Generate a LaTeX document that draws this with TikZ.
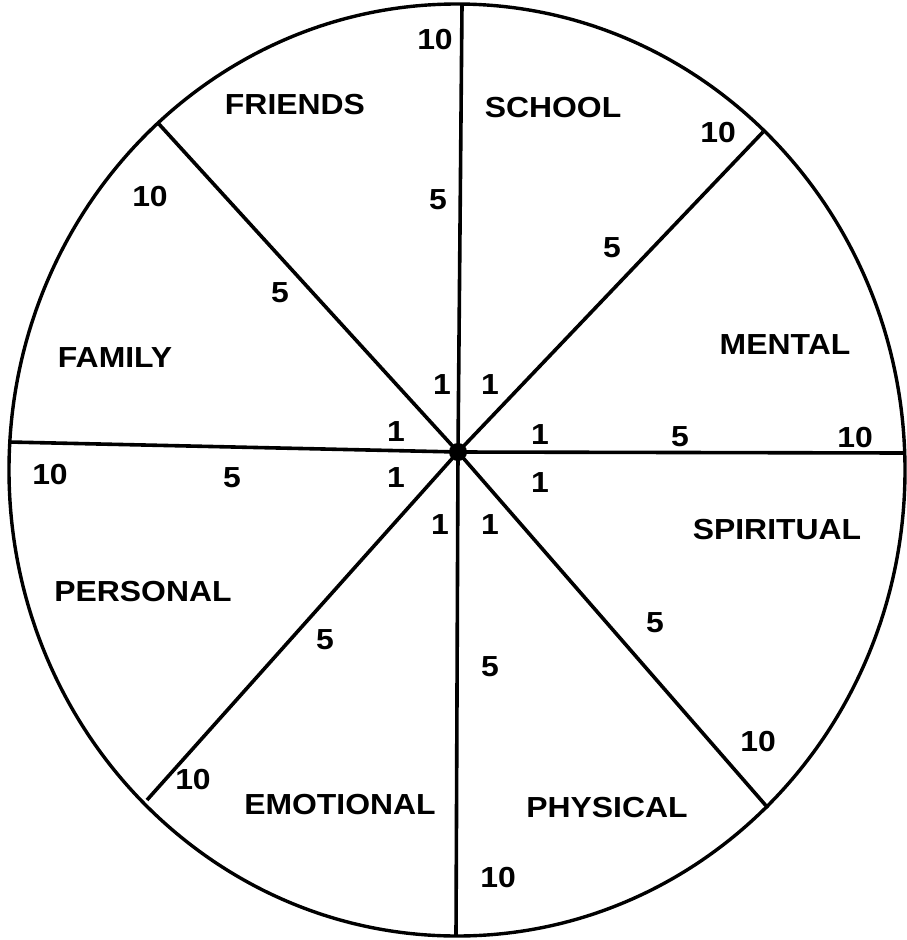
\documentclass[tikz,border=0pt]{standalone}
\usepackage{fontspec}
\usepackage{graphicx}
\setmainfont{Liberation Sans}
\newcommand\wlbl[1]{\scalebox{1.1}[1]{#1}}
\begin{document}
\begin{tikzpicture}[x=1pt,y=-1pt,
  lab/.style={font=\fontsize{29}{33}\selectfont\bfseries, inner sep=0pt},
  spoke/.style={line width=3.6pt},
  rim/.style={line width=3.4pt}]
\useasboundingbox (0,0) rectangle (907,940);
% hub and rim points
\coordinate (hub) at (458,452);
\coordinate (pT) at (462,5);
\coordinate (pB) at (456,936);
\coordinate (pL) at (9,442);
\coordinate (pR) at (905,453);
\coordinate (pUL) at (158,123);
\coordinate (pUR) at (763,132);
\coordinate (pLL) at (147,800);
\coordinate (pLR) at (768,808);
\draw[rim] (457,470) ellipse [x radius=448, y radius=466];
\foreach \p in {pT,pB,pL,pR,pUL,pUR,pLL,pLR}
  \draw[spoke] (hub) -- (\p);
\fill (hub) circle (9);
% sector names
\node[lab] (friends) at (295,105) {\wlbl{FRIENDS}};
\node[lab] (school) at (553,108) {\wlbl{SCHOOL}};
\node[lab] (mental) at (785,345) {\wlbl{MENTAL}};
\node[lab] (family) at (115,358) {\wlbl{FAMILY}};
\node[lab] (spiritual) at (777,530) {\wlbl{SPIRITUAL}};
\node[lab] (personal) at (143,592) {\wlbl{PERSONAL}};
\node[lab] (emotional) at (340,805) {\wlbl{EMOTIONAL}};
\node[lab] (physical) at (607,808) {\wlbl{PHYSICAL}};
% scale numbers
\node[lab] (t10) at (435,40) {\wlbl{10}};
\node[lab] (t5) at (438,200) {\wlbl{5}};
\node[lab] (t1) at (442,385) {\wlbl{1}};
\node[lab] (ur10) at (718,133) {\wlbl{10}};
\node[lab] (ur5) at (612,248) {\wlbl{5}};
\node[lab] (ur1) at (490,385) {\wlbl{1}};
\node[lab] (ul10) at (150,197) {\wlbl{10}};
\node[lab] (ul5) at (280,293) {\wlbl{5}};
\node[lab] (ul1) at (396,432) {\wlbl{1}};
\node[lab] (r1) at (540,435) {\wlbl{1}};
\node[lab] (r5) at (680,437) {\wlbl{5}};
\node[lab] (r10) at (855,438) {\wlbl{10}};
\node[lab] (l10) at (50,475) {\wlbl{10}};
\node[lab] (l5) at (232,478) {\wlbl{5}};
\node[lab] (l1) at (396,478) {\wlbl{1}};
\node[lab] (lr1) at (540,483) {\wlbl{1}};
\node[lab] (b1) at (440,525) {\wlbl{1}};
\node[lab] (bb1) at (490,525) {\wlbl{1}};
\node[lab] (lr5) at (655,623) {\wlbl{5}};
\node[lab] (ll5) at (325,640) {\wlbl{5}};
\node[lab] (b5) at (490,667) {\wlbl{5}};
\node[lab] (lr10) at (758,742) {\wlbl{10}};
\node[lab] (ll10) at (193,780) {\wlbl{10}};
\node[lab] (b10) at (498,878) {\wlbl{10}};
\end{tikzpicture}
\end{document}
